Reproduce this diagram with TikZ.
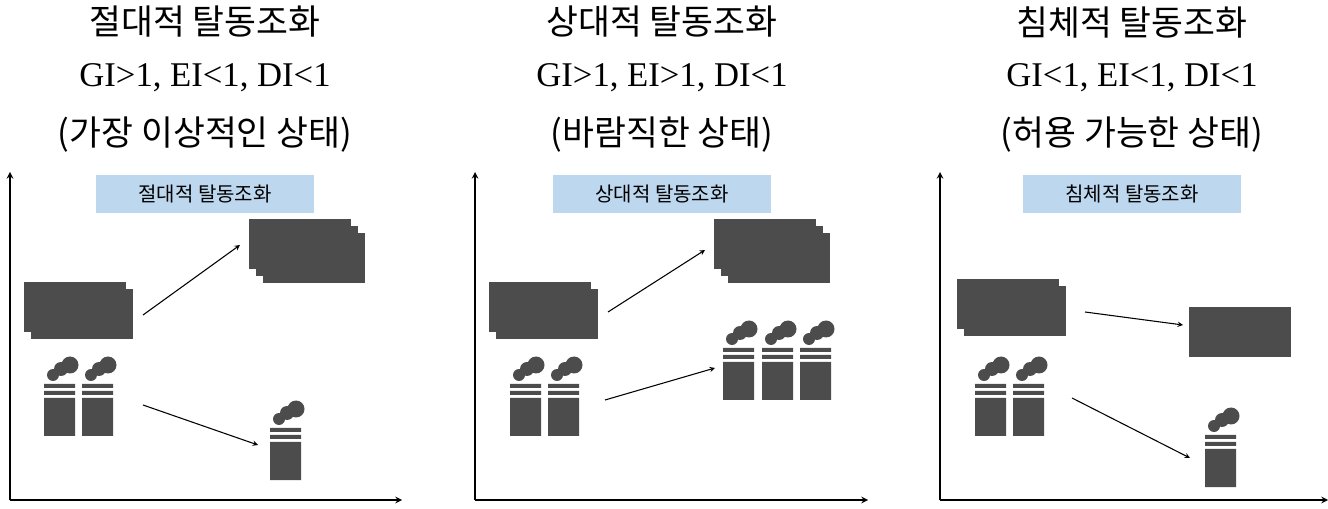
\documentclass[tikz,border=0pt]{standalone}
\usepackage{fontspec}
\setmainfont{Liberation Serif}
\newfontfamily\kr{Noto Sans CJK KR}
\tikzset{>=stealth}
\colorlet{iconColor}{black!70}
\definecolor{boxColor}{RGB}{189,215,238}
\tikzset{
  axis/.style={->,very thick},
  trend/.style={->,thick},
  title/.style={font=\kr\fontsize{26}{28}\selectfont},
  ratio/.style={font=\fontsize{26}{28}\selectfont},
  tag/.style={fill=boxColor,minimum width=164pt,minimum height=28pt,font=\kr\fontsize{15}{17}\selectfont},
}
% one bill: top-left corner, width, height
\newcommand{\onebill}[4]{%
  \draw[fill=white,iconColor,line width=1.2pt] (#1,#2) rectangle ++(#3,#4);
  \draw[iconColor,line width=0.8pt] ({#1+4},{#2+4}) rectangle ++({#3-8},{#4-8});}
% stack of bills: top-left corner, count
\newcommand{\billstack}[3]{%
  \foreach \k in {#3,...,1}{%
    \pgfmathsetmacro{\bx}{#1+7*(\k-1)}\pgfmathsetmacro{\by}{#2+7*(\k-1)}%
    \onebill{\bx}{\by}{100}{48}}
  \node[iconColor,font=\fontsize{24}{24}\sffamily] at ({#1+50},{#2+24}) {\$};}
% chimney: left edge, bottom edge
\newcommand{\chimney}[2]{%
  \fill[iconColor] (#1,#2-52) rectangle ++(31,4) (#1,#2-45) rectangle ++(31,4)
    (#1,#2-38) rectangle ++(31,38);
  \fill[iconColor] (#1+9,#2-61) circle[radius=6] (#1+17,#2-67) circle[radius=7]
    (#1+26,#2-71) circle[radius=8.5];}
\begin{document}
\begin{tikzpicture}[x=0.75pt,y=-0.75pt]
\useasboundingbox (0,0) rectangle (1328,509);
% titles
\foreach \cx/\name/\gi/\ei/\state in {205/절대적/>/</가장 이상적인 상태,662/상대적/>/>/바람직한 상태,1132/침체적/</</허용 가능한 상태}{
  \node[title] at (\cx,22) {\name\ 탈동조화};
  \node[ratio] at (\cx,78) {GI\gi1,\ EI\ei1,\ DI<1};
  \node[title] at (\cx,135) {(\state)};
  \node[tag] at (\cx,194) {\name\ 탈동조화};
}
% axes
\foreach \ox/\ex in {10/402,475/868,940/1328}{
  \draw[axis] (\ox,500) -- (\ox,172);
  \draw[axis] (\ox,500) -- (\ex,500);
}
% absolute
\billstack{25}{283}{2}
\billstack{250}{220}{3}
\chimney{44}{436} \chimney{82}{436}
\chimney{270}{480}
\draw[trend] (143,315) -- (240,245);
\draw[trend] (143,405) -- (258,445);
% relative
\billstack{490}{283}{2}
\billstack{715}{220}{3}
\chimney{510}{436} \chimney{548}{436}
\chimney{723}{400} \chimney{762}{400} \chimney{800}{400}
\draw[trend] (608,312) -- (705,250);
\draw[trend] (605,400) -- (715,368);
% stagnant
\billstack{958}{280}{2}
\billstack{1190}{308}{1}
\chimney{975}{436} \chimney{1013}{436}
\chimney{1205}{487}
\draw[trend] (1085,312) -- (1183,325);
\draw[trend] (1072,398) -- (1190,458);
\end{tikzpicture}
\end{document}
